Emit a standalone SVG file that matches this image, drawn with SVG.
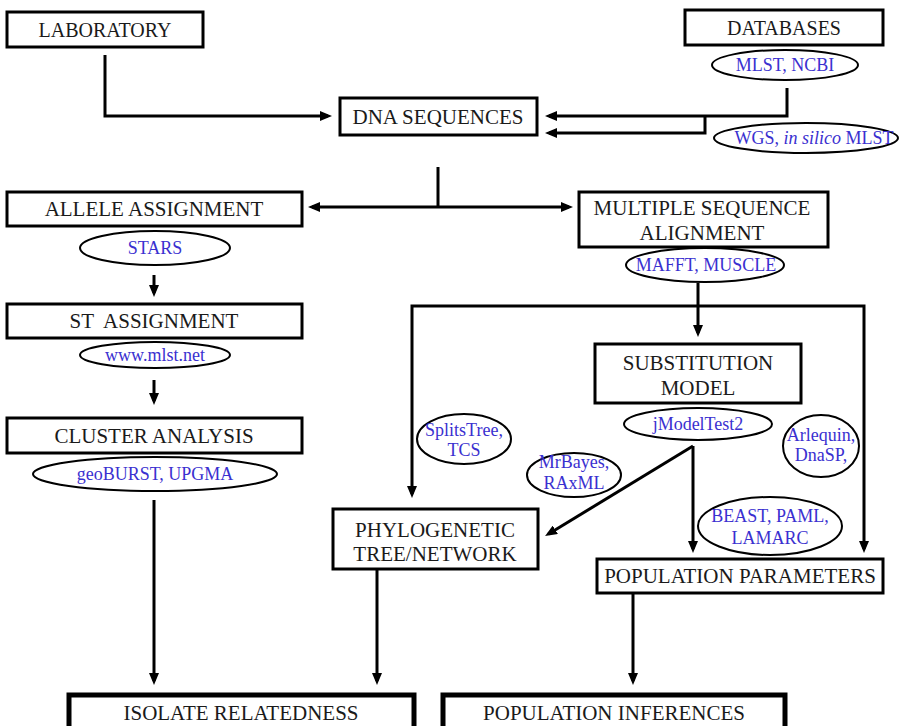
<svg xmlns="http://www.w3.org/2000/svg" width="901" height="726" viewBox="0 0 901 726">
<style>
.box{fill:#fff;stroke:#000;stroke-width:3}
.big{fill:#fff;stroke:#000;stroke-width:5}
.ell{fill:#fff;stroke:#000;stroke-width:2}
.t{font-family:"Liberation Serif","Times New Roman",serif;font-size:21px;fill:#1a1a1a;text-anchor:middle}
.b{font-family:"Liberation Serif","Times New Roman",serif;font-size:18px;fill:#3a30d0;text-anchor:middle}
.c{fill:none;stroke:#000;stroke-width:3;marker-end:url(#ah)}
.l{fill:none;stroke:#000;stroke-width:3}
</style>
<defs>
<marker id="ah" markerUnits="userSpaceOnUse" markerWidth="12" markerHeight="10" refX="8" refY="5" orient="auto">
<path d="M0,0 L12,5 L0,10 z" fill="#000"/>
</marker>
</defs>
<rect width="901" height="726" fill="#fff"/>
<g id="connectors">
<path class="c" d="M105 55 V116 H328"/>
<path class="c" d="M787 88 V116 H549"/>
<path class="c" d="M705 116 V133 H549"/>
<path class="l" d="M438 167 V207"/>
<path class="c" d="M438 207 H312"/>
<path class="c" d="M438 207 H569"/>
<path class="c" d="M154 275 V293"/>
<path class="c" d="M154 380 V401"/>
<path class="c" d="M154 500 V681"/>
<path class="c" d="M698 283 V333"/>
<path class="c" d="M698 306 H412 V494"/>
<path class="c" d="M698 306 H864 V549"/>
<path class="c" d="M693 446 V549"/>
<path class="c" d="M693 446 L548.5 534"/>
<path class="c" d="M377 569 V681"/>
<path class="c" d="M633 593 V681"/>
</g>
<g id="laboratory"><rect class="box" x="7" y="12" width="196" height="35"/><text class="t" x="105" y="37" style="font-size:20px">LABORATORY</text></g>
<g id="databases"><rect class="box" x="685" y="10" width="198" height="35"/><text class="t" x="784" y="35" style="font-size:20px">DATABASES</text></g>
<g id="mlst-ncbi"><ellipse class="ell" cx="785" cy="65" rx="73" ry="15"/><text class="b" x="785" y="71">MLST, NCBI</text></g>
<g id="wgs"><ellipse class="ell" cx="806" cy="138" rx="92" ry="15"/><text class="b" x="814" y="144">WGS, <tspan font-style="italic">in silico</tspan> MLST</text></g>
<g id="dna-sequences"><rect class="box" x="340" y="98" width="197" height="37"/><text class="t" x="438" y="124">DNA SEQUENCES</text></g>
<g id="allele-assignment"><rect class="box" x="7" y="192" width="295" height="34"/><text class="t" x="154" y="216">ALLELE ASSIGNMENT</text></g>
<g id="stars"><ellipse class="ell" cx="155" cy="248" rx="75" ry="17"/><text class="b" x="155" y="254">STARS</text></g>
<g id="st-assignment"><rect class="box" x="7" y="304" width="295" height="34"/><text class="t" x="154" y="328" style="white-space:pre">ST  ASSIGNMENT</text></g>
<g id="www-mlst"><ellipse class="ell" cx="155" cy="355" rx="75" ry="13"/><text class="b" x="155" y="361">www.mlst.net</text></g>
<g id="cluster-analysis"><rect class="box" x="7" y="418" width="295" height="35"/><text class="t" x="154" y="443">CLUSTER ANALYSIS</text></g>
<g id="geoburst"><ellipse class="ell" cx="155" cy="474" rx="122" ry="17"/><text class="b" x="155" y="480">geoBURST, UPGMA</text></g>
<g id="msa"><rect class="box" x="579" y="192" width="249" height="55"/><text class="t" x="702" y="215">MULTIPLE SEQUENCE</text><text class="t" x="702" y="240">ALIGNMENT</text></g>
<g id="mafft"><ellipse class="ell" cx="705" cy="265" rx="79" ry="17"/><text class="b" x="706" y="271">MAFFT, MUSCLE</text></g>
<g id="substitution-model"><rect class="box" x="595" y="344" width="206" height="59"/><text class="t" x="698" y="370">SUBSTITUTION</text><text class="t" x="698" y="395">MODEL</text></g>
<g id="jmodeltest"><ellipse class="ell" cx="698" cy="424" rx="74" ry="16"/><text class="b" x="698" y="430">jModelTest2</text></g>
<g id="splitstree"><ellipse class="ell" cx="464" cy="439" rx="47" ry="25"/><text class="b" x="464" y="436">SplitsTree,</text><text class="b" x="464" y="456">TCS</text></g>
<g id="mrbayes"><ellipse class="ell" cx="574" cy="475" rx="47" ry="22"/><text class="b" x="574" y="468">MrBayes,</text><text class="b" x="574" y="489">RAxML</text></g>
<g id="arlequin"><ellipse class="ell" cx="821" cy="446" rx="38" ry="31"/><text class="b" x="821" y="441">Arlequin,</text><text class="b" x="821" y="461">DnaSP,</text></g>
<g id="beast"><ellipse class="ell" cx="770" cy="526" rx="72" ry="29"/><text class="b" x="770" y="522">BEAST, PAML,</text><text class="b" x="770" y="544">LAMARC</text></g>
<g id="phylogenetic"><rect class="box" x="333" y="509" width="205" height="60"/><text class="t" x="435" y="537">PHYLOGENETIC</text><text class="t" x="435" y="561">TREE/NETWORK</text></g>
<g id="population-parameters"><rect class="box" x="597" y="559" width="286" height="34"/><text class="t" x="740" y="583">POPULATION PARAMETERS</text></g>
<g id="isolate-relatedness"><rect class="big" x="69" y="695" width="345" height="50"/><text class="t" x="241" y="720">ISOLATE RELATEDNESS</text></g>
<g id="population-inferences"><rect class="big" x="443" y="695" width="342" height="50"/><text class="t" x="614" y="720">POPULATION INFERENCES</text></g>
</svg>
